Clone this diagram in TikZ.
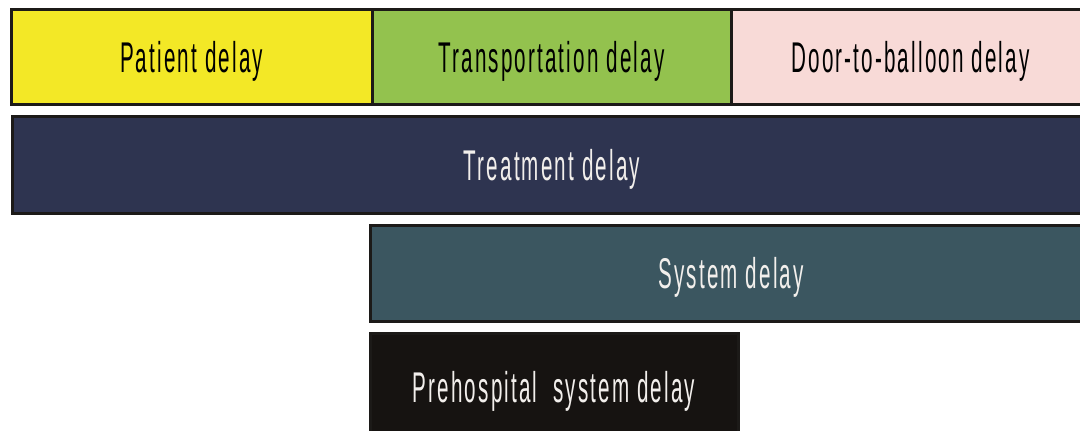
\documentclass[tikz,border=0pt]{standalone}
\usepackage{fontspec}
\newfontfamily\condsans[FakeStretch=0.48,LetterSpace=5]{Liberation Sans}
\definecolor{patientyellow}{HTML}{F3E826}
\definecolor{transgreen}{HTML}{93C24E}
\definecolor{doorpink}{HTML}{F8DAD7}
\definecolor{treatnavy}{HTML}{2E3450}
\definecolor{systemteal}{HTML}{3B5660}
\definecolor{prehospblack}{HTML}{161311}
\definecolor{edgedark}{HTML}{1C1A18}
\definecolor{lighttext}{HTML}{F2EFEC}
\tikzset{
  bar/.style={draw=edgedark, line width=3pt, rectangle, inner sep=0pt,
    text depth=0pt, font=\condsans\fontsize{43}{48}\selectfont},
  darkbar/.style={bar, text=lighttext},
  lightbar/.style={bar, text=black}
}
\begin{document}
\begin{tikzpicture}[x=1pt,y=-1pt]
\useasboundingbox (0,0) rectangle (1080,431);
\clip (0,0) rectangle (1080,431);
\fill[white] (0,0) rectangle (1080,431);
% top row: the three successive delays
\node[lightbar, fill=patientyellow, minimum width=361pt, minimum height=95pt]
  (patient) at (191.5,56.5) {Patient delay};
\node[lightbar, fill=transgreen, minimum width=359pt, minimum height=95pt]
  (transport) at (551.5,56.5) {Transportation delay};
\node[lightbar, fill=doorpink, minimum width=359pt, minimum height=95pt]
  (door) at (910.5,56.5) {Door-to-balloon delay};
% overall treatment delay
\node[darkbar, fill=treatnavy, minimum width=1080pt, minimum height=97pt]
  (treatment) at (552,164.5) {Treatment delay};
% system delay
\node[darkbar, fill=systemteal, minimum width=722pt, minimum height=96pt]
  (system) at (731,273) {System delay};
% prehospital system delay
\node[darkbar, fill=prehospblack, minimum width=368pt, minimum height=108pt]
  (prehosp) at (554,387) {Prehospital\ \ system delay};
\end{tikzpicture}
\end{document}
